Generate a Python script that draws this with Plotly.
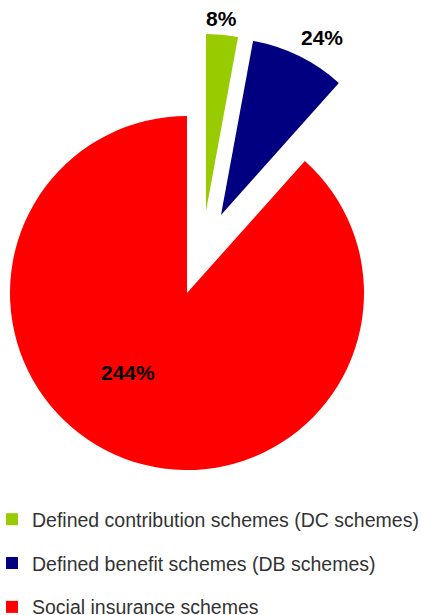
import plotly.graph_objects as go

# ---- data ----
labels = ["Defined contribution schemes (DC schemes)",
          "Defined benefit schemes (DB schemes)",
          "Social insurance schemes"]
values = [8, 24, 244]
colors = ["#99CC00", "#000080", "#FF0000"]

W, H = 422, 615
R = 177
# slice centres (px) : red is not exploded, green & blue are pulled out
centers = [(206, 211), (221, 215), (187, 293)]
label_pos = [(221, 18), (322, 37), (128, 372)]

def dom(cx, cy):
    return dict(x=[(cx - R) / W, (cx + R) / W],
                y=[(H - (cy + R)) / H, (H - (cy - R)) / H])

fig = go.Figure()
for i in range(len(values)):
    cols = ["rgba(0,0,0,0)"] * len(values)
    cols[i] = colors[i]
    fig.add_trace(go.Pie(
        labels=labels, values=values, sort=False, direction="clockwise",
        rotation=0, marker=dict(colors=cols, line=dict(width=0)),
        textinfo="none", hoverinfo="skip", showlegend=False,
        domain=dom(*centers[i])))

# legend entries
for i in range(len(values)):
    fig.add_trace(go.Scatter(
        x=[None], y=[None], mode="markers", name=labels[i],
        legendgroup=str(i),
        marker=dict(symbol="square", size=12, color=colors[i])))

for i, v in enumerate(values):
    x, y = label_pos[i]
    fig.add_annotation(x=x / W, y=1 - y / H, xref="paper", yref="paper",
                       xanchor="center", yanchor="middle",
                       text=f"<b>{v}%</b>", showarrow=False,
                       font=dict(size=21, color="#000000",
                                 family="Liberation Sans, Arial, sans-serif"))

fig.update_layout(
    width=W, height=H, margin=dict(l=0, r=0, t=0, b=0, autoexpand=False),
    paper_bgcolor="white", plot_bgcolor="white",
    xaxis=dict(visible=False), yaxis=dict(visible=False),
    showlegend=True,
    legend=dict(x=-0.019, xanchor="left", y=1 - 500 / H, yanchor="top",
                tracegroupgap=15.5, bgcolor="rgba(0,0,0,0)",
                font=dict(size=19.5, color="#333333",
                          family="Liberation Sans, Arial, sans-serif")),
)

fig.write_html("out.html")
